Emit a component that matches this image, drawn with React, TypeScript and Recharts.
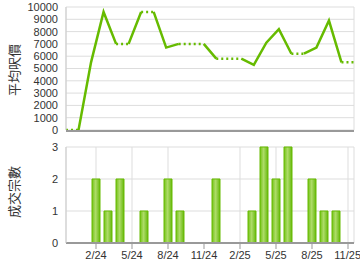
import React from 'react';
import { LineChart, Line, BarChart, Bar, XAxis, YAxis, CartesianGrid } from 'recharts';

const months = [
  '12/23', '1/24', '2/24', '3/24', '4/24', '5/24', '6/24', '7/24', '8/24', '9/24', '10/24', '11/24',
  '12/24', '1/25', '2/25', '3/25', '4/25', '5/25', '6/25', '7/25', '8/25', '9/25', '10/25', '11/25',
];
const avgPrice = [
  0, 0, 5500, 9600, 7000, 7000, 9600, 9600, 6700, 7000, 7000, 7000,
  5800, 5800, 5800, 5300, 7100, 8200, 6200, 6200, 6700, 8900, 5500, 5500,
];
const deals = [
  0, 0, 2, 1, 2, 0, 1, 0, 2, 1, 0, 0,
  2, 0, 0, 1, 3, 2, 3, 0, 2, 1, 1, 0,
];
const priceTicks = [0, 1000, 2000, 3000, 4000, 5000, 6000, 7000, 8000, 9000, 10000];
const dealTicks = [0, 1, 2, 3];
const xTicks = ['2/24', '5/24', '8/24', '11/24', '2/25', '5/25', '8/25', '11/25'];

const GREEN = '#66bb00';

// split the price line into runs: a segment into a month with deals is solid,
// a segment into a month without deals is dotted. Runs alternate between two keys
// so adjacent runs never get joined.
const buildRows = () => {
  const rows: any[] = months.map((m, i) => ({ month: m, deals: deals[i] }));
  const counters = { solid: 0, dot: 0 };
  for (let i = 0; i < months.length - 1; i++) {
    const kind = deals[i + 1] > 0 ? 'solid' : 'dot';
    const prevKind = i > 0 ? (deals[i] > 0 ? 'solid' : 'dot') : null;
    if (prevKind !== kind) counters[kind]++;
    const key = kind + (counters[kind] % 2);
    rows[i][key] = avgPrice[i];
    rows[i + 1][key] = avgPrice[i + 1];
  }
  return rows;
};
const rows = buildRows();

const tickStyle = { fontSize: 11, fill: '#333', fontFamily: 'Liberation Sans, Arial, sans-serif' };

export default function App() {
  return (
    <div style={{ position: 'absolute', left: 0, top: 0, width: 360, height: 270, background: '#fff' }}>
      <LineChart width={360} height={140} data={rows} margin={{ top: 7, right: 6, left: 8, bottom: 8 }}>
        <CartesianGrid stroke="#ddd" />
        <XAxis dataKey="month" ticks={xTicks} tick={false} height={2} axisLine={{ stroke: '#999', strokeWidth: 2, transform: 'translate(0, 1)' }} tickLine={false} />
        <YAxis domain={[0, 10000]} ticks={priceTicks} width={58} interval={0} tick={tickStyle} axisLine={{ stroke: '#ccc' }} tickLine={false} />
        {['solid0', 'solid1'].map((k) => (
          <Line key={k} dataKey={k} stroke={GREEN} strokeWidth={2.5} dot={false} connectNulls={false} isAnimationActive={false} />
        ))}
        {['dot0', 'dot1'].map((k) => (
          <Line key={k} dataKey={k} stroke={GREEN} strokeWidth={2.5} strokeDasharray="2 3" dot={false} connectNulls={false} isAnimationActive={false} />
        ))}
      </LineChart>
      <BarChart width={360} height={130} data={rows} margin={{ top: 7, right: 6, left: 8, bottom: 5 }} barSize={8}>
        <defs>
          <linearGradient id="barGrad" x1="0" y1="0" x2="1" y2="0">
            <stop offset="0%" stopColor="#74c218" />
            <stop offset="45%" stopColor="#aedc68" />
            <stop offset="100%" stopColor="#66b80c" />
          </linearGradient>
        </defs>
        <CartesianGrid stroke="#ddd" />
        <XAxis dataKey="month" ticks={xTicks} height={22} tick={tickStyle} axisLine={{ stroke: '#999', strokeWidth: 2 }} tickLine={{ stroke: '#999' }} />
        <YAxis domain={[0, 3]} ticks={dealTicks} width={58} tick={tickStyle} axisLine={{ stroke: '#ccc' }} tickLine={false} />
        <Bar dataKey="deals" fill="url(#barGrad)" stroke={GREEN} strokeWidth={1} isAnimationActive={false} />
      </BarChart>
      <div style={{ position: 'absolute', left: 13, top: 70, transform: 'translate(-50%, -50%) rotate(-90deg)', fontSize: 13, color: '#333', whiteSpace: 'nowrap', fontFamily: 'Noto Sans CJK TC, sans-serif' }}>平均呎價</div>
      <div style={{ position: 'absolute', left: 13, top: 192, transform: 'translate(-50%, -50%) rotate(-90deg)', fontSize: 13, color: '#333', whiteSpace: 'nowrap', fontFamily: 'Noto Sans CJK TC, sans-serif' }}>成交宗數</div>
    </div>
  );
}
